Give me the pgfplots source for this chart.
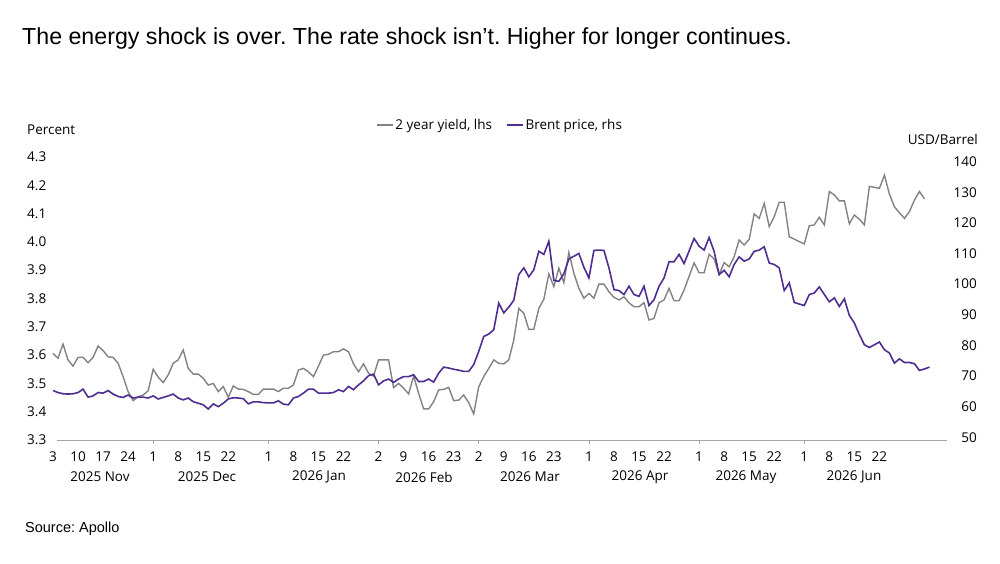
\documentclass[border=0pt]{standalone}
\usepackage{fontspec}
\setmainfont{Open Sans}
\newfontfamily\arialfont{Liberation Sans}
\usepackage{pgfplots}
\pgfplotsset{compat=1.18}
\usepackage{pgfplotstable}
\definecolor{ygray}{RGB}{130,130,130}
\definecolor{bpurple}{RGB}{80,45,145}
\definecolor{axgray}{RGB}{165,165,165}
\frenchspacing

\pgfplotstableread{
idx val
0 3.606
1 3.589
2 3.639
3 3.583
4 3.561
5 3.592
6 3.592
7 3.573
8 3.592
9 3.632
10 3.616
11 3.594
12 3.592
13 3.571
14 3.524
15 3.471
16 3.439
17 3.453
18 3.459
19 3.474
20 3.550
21 3.522
22 3.503
23 3.530
24 3.571
25 3.583
26 3.618
27 3.553
28 3.533
29 3.533
30 3.518
31 3.494
32 3.500
33 3.471
34 3.489
35 3.451
36 3.491
37 3.480
38 3.479
39 3.471
40 3.461
41 3.461
42 3.480
43 3.480
44 3.480
45 3.471
46 3.483
47 3.483
48 3.494
49 3.547
50 3.553
51 3.541
52 3.524
53 3.561
54 3.600
55 3.603
56 3.612
57 3.612
58 3.622
59 3.612
60 3.569
61 3.541
62 3.569
63 3.536
64 3.526
65 3.583
66 3.583
67 3.583
68 3.485
69 3.500
70 3.483
71 3.463
72 3.526
73 3.465
74 3.410
75 3.410
76 3.435
77 3.477
78 3.479
79 3.486
80 3.439
81 3.441
82 3.459
83 3.432
84 3.392
85 3.488
86 3.524
87 3.553
88 3.583
89 3.571
90 3.569
91 3.583
92 3.653
93 3.765
94 3.748
95 3.691
96 3.691
97 3.765
98 3.797
99 3.887
100 3.842
101 3.907
102 3.856
103 3.963
104 3.889
105 3.836
106 3.801
107 3.818
108 3.801
109 3.851
110 3.851
111 3.824
112 3.804
113 3.795
114 3.806
115 3.785
116 3.771
117 3.771
118 3.785
119 3.724
120 3.730
121 3.785
122 3.795
123 3.836
124 3.792
125 3.792
126 3.830
128 3.926
129 3.891
130 3.891
131 3.956
132 3.940
133 3.885
134 3.927
135 3.912
136 3.948
137 4.007
138 3.989
139 4.009
140 4.099
141 4.083
142 4.136
143 4.054
144 4.089
145 4.140
146 4.140
147 4.018
148 4.010
149 4.001
150 3.993
151 4.057
152 4.060
153 4.087
154 4.060
155 4.178
156 4.166
157 4.145
158 4.145
159 4.064
160 4.095
161 4.080
162 4.060
163 4.196
164 4.193
165 4.189
166 4.236
167 4.169
168 4.124
169 4.103
170 4.083
171 4.107
172 4.148
173 4.178
174 4.152
}\yieldtable

\pgfplotstableread{
idx val
0 65.25
1 64.6
2 64.2
3 64.1
4 64.2
5 64.6
6 65.7
7 63.1
8 63.5
9 64.6
10 64.4
11 65.25
12 64.1
13 63.3
14 63.0
15 63.8
16 62.8
17 63.1
18 63.1
19 62.8
20 63.5
21 62.5
22 63.0
23 63.5
24 64.1
25 62.8
26 62.2
27 62.8
28 61.6
29 61.1
30 60.6
31 59.2
32 60.9
33 60.0
34 61.1
35 62.5
36 62.9
37 62.8
38 62.6
39 60.9
40 61.55
41 61.55
42 61.3
43 61.2
44 61.2
45 61.9
46 60.8
47 60.6
48 62.8
49 63.3
50 64.4
51 65.7
52 65.7
53 64.4
54 64.4
55 64.4
56 64.6
57 65.5
58 64.9
59 66.6
60 65.5
61 67.1
62 68.4
63 70.1
64 70.6
65 67.1
66 68.4
67 69.0
68 67.9
69 69.0
70 69.8
71 69.8
72 70.4
73 68.2
74 68.2
75 69.0
76 68.0
77 70.9
78 72.9
79 72.6
80 72.2
81 71.9
82 71.5
83 71.5
84 73.7
85 78.0
86 82.9
87 83.7
88 85.1
89 93.8
90 90.6
91 92.5
92 94.7
93 103.1
94 105.3
95 102.4
96 104.7
97 110.7
98 109.7
99 114.0
100 101.2
101 100.9
102 103.4
103 108.2
104 109.1
105 110.0
106 105.5
107 102.0
108 111.0
109 111.1
110 111.0
111 105.3
112 98.2
113 97.9
114 96.6
115 99.3
116 96.6
117 96.0
118 99.3
119 93.0
120 94.9
121 99.3
122 102.0
123 107.3
124 107.3
125 109.7
126 106.7
128 114.9
129 112.4
130 111.1
131 115.2
132 110.7
133 103.1
134 104.5
135 102.4
136 106.4
137 108.9
138 107.5
139 108.2
140 110.7
141 111.1
142 112.2
143 106.9
144 106.4
145 105.3
146 97.9
147 100.4
148 94.0
149 93.5
150 93.0
151 96.6
152 97.1
153 99.1
154 96.6
155 94.2
156 95.5
157 92.7
158 95.2
159 89.8
160 87.3
161 83.5
162 80.2
163 79.3
164 80.2
165 81.1
166 78.6
167 77.5
168 74.2
169 75.6
170 74.4
171 74.4
172 74.0
173 71.8
174 72.3
175 72.9
}\brenttable

\begin{document}
\begin{tikzpicture}
\path[use as bounding box] (-53pt,-123pt) rectangle (947pt,440pt);
\begin{axis}[
  at={(0pt,0pt)}, anchor=south west,
  scale only axis, width=894pt, height=283pt,
  xmin=0, xmax=178.5, ymin=3.3, ymax=4.3,
  axis x line*=bottom, axis y line*=left,
  y axis line style={draw=none},
  x axis line style={draw=axgray, line width=1pt, shorten <=4pt, -},
  tick align=outside,
  xtick={0,5,10,15,20,25,30,35,43,48,53,58,65,70,75,80,85,90,95,100,107,112,117,122,129,134,139,144,150,155,160,165},
  xticklabels={3,10,17,24,1,8,15,22,1,8,15,22,2,9,16,23,2,9,16,23,1,8,15,22,1,8,15,22,1,8,15,22},
  major tick length=0pt,
  extra x ticks={20,43,65,85,107,129,150},
  extra x tick labels={},
  extra x tick style={major tick length=4pt, tick style={draw=axgray, line width=0.8pt}},
  xticklabel style={font=\fontsize{13.5}{15}\selectfont, inner sep=0pt, yshift=-11.5pt},
  ytick={3.3,3.4,3.5,3.6,3.7,3.8,3.9,4.0,4.1,4.2,4.3},
  ytick style={draw=none},
  yticklabel style={font=\fontsize{13.5}{15}\selectfont, anchor=west, inner sep=0pt, xshift=-26pt,
    /pgf/number format/.cd, fixed, fixed zerofill, precision=1, assume math mode=true},
  legend style={draw=none, fill=none, at={(0.5,1.113)}, anchor=center,
    font=\fontsize{13.5}{15}\selectfont, legend columns=2,
    /tikz/every even column/.append style={column sep=12pt}},
  legend image code/.code={\draw[#1] (0pt,0pt) -- (16pt,0pt);},
  clip=false,
]
\addplot[ygray, line width=1.4pt] table[x=idx, y=val] {\yieldtable};
\addlegendentry{2 year yield, lhs}
\addlegendimage{bpurple, line width=1.6pt}
\addlegendentry{Brent price, rhs}
\end{axis}
\begin{axis}[
  at={(0pt,0pt)}, anchor=south west,
  scale only axis, width=894pt, height=283pt,
  xmin=0, xmax=178.5, ymin=49.1, ymax=141.5,
  hide x axis, hide y axis,
  clip=false,
]
\addplot[bpurple, line width=1.6pt] table[x=idx, y=val] {\brenttable};
\end{axis}
\begin{scope}[every node/.style={font=\fontsize{13.5}{15}\selectfont, inner sep=0pt, anchor=east}]
\node at (924pt,2.76pt) {50};
\node at (924pt,33.38pt) {60};
\node at (924pt,64.01pt) {70};
\node at (924pt,94.64pt) {80};
\node at (924pt,125.27pt) {90};
\node at (924pt,155.90pt) {100};
\node at (924pt,186.53pt) {110};
\node at (924pt,217.16pt) {120};
\node at (924pt,247.79pt) {130};
\node at (924pt,278.41pt) {140};
\end{scope}
\begin{scope}[every node/.style={font=\fontsize{13.5}{15}\selectfont, inner sep=0pt}]
\node[anchor=center] at (47pt,-37pt) {2025 Nov};
\node[anchor=center] at (154pt,-37pt) {2025 Dec};
\node[anchor=center] at (266pt,-37pt) {2026 Jan};
\node[anchor=center] at (371pt,-37pt) {2026 Feb};
\node[anchor=center] at (477pt,-37pt) {2026 Mar};
\node[anchor=center] at (587pt,-37pt) {2026 Apr};
\node[anchor=center] at (693pt,-37pt) {2026 May};
\node[anchor=center] at (801pt,-37pt) {2026 Jun};
\node[anchor=base west] at (-26pt,305pt) {Percent};
\node[anchor=base east] at (925pt,295pt) {USD/Barrel};
\end{scope}
\node[anchor=base west, inner sep=0pt, font=\arialfont\fontsize{23.2}{27}\selectfont] at (-31pt,395pt) {The energy shock is over. The rate shock isn’t. Higher for longer continues.};
\node[anchor=base west, inner sep=0pt, font=\arialfont\fontsize{14.5}{17}\selectfont] at (-28pt,-92pt) {Source: Apollo};
\end{tikzpicture}
\end{document}
